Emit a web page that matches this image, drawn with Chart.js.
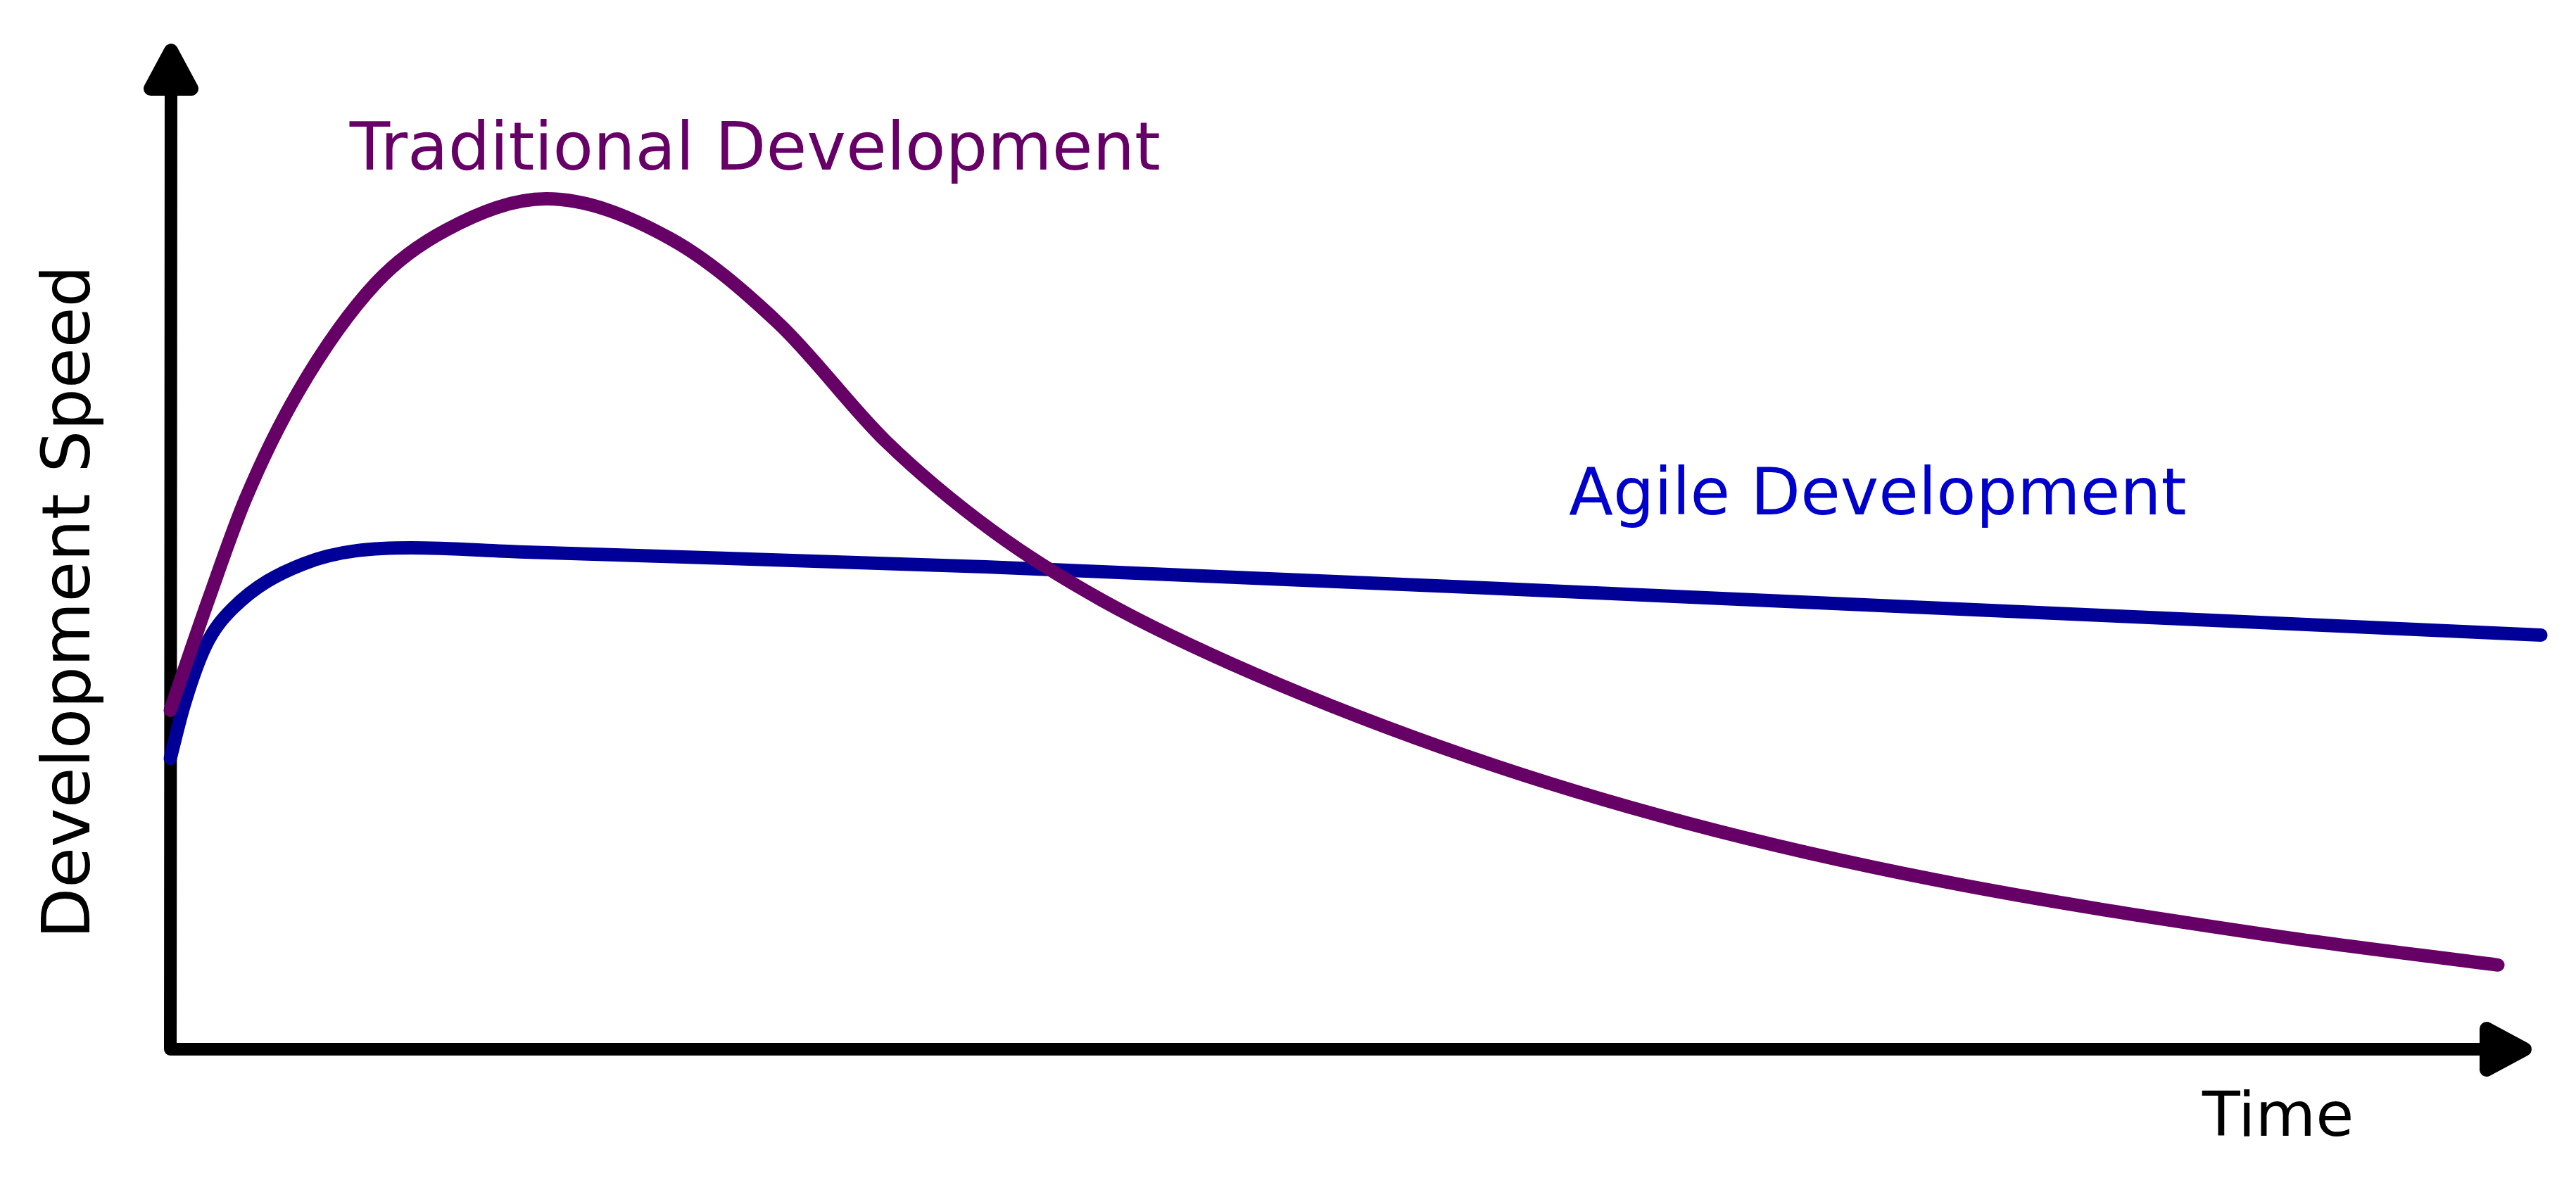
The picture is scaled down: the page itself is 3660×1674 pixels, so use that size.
<!DOCTYPE html>
<html>
<head>
<meta charset="utf-8">
<script src="https://cdn.jsdelivr.net/npm/chart.js@4"></script>
<style>
  html, body { margin: 0; padding: 0; background: #ffffff; }
  #wrap { width: 3660px; height: 1674px; }
</style>
</head>
<body>
<div id="wrap"><canvas id="c" width="3660" height="1674"></canvas></div>
<script>
// ---- data (time on x, development speed on y; both 0..100) ----
const traditionalTime  = [0, 1.64, 3.19, 5.43, 8.71, 11.69, 15.93, 21.21, 25.77, 30.33, 34.89, 39.46, 45.96, 55.09, 64.21, 74.77, 88.91, 98.63];
const traditionalSpeed = [33.8, 45.0, 54.9, 65.6, 76.4, 81.7, 84.8, 80.8, 72.4, 60.6, 51.6, 44.8, 37.4, 29.1, 22.6, 16.9, 11.4, 8.4];

const agileTime  = [0, 0.57, 1.49, 2.62, 5.64, 10.2, 14.8, 34.54, 62.39, 100.45];
const agileSpeed = [29.0, 34.2, 40.2, 43.9, 48.4, 50.0, 49.6, 48.1, 45.3, 41.3];

const seriesNames = ['Traditional Development', 'Agile Development'];
const xAxisTitle = 'Time';
const yAxisTitle = 'Development Speed';

const toPoints = (xs, ys) => xs.map((x, i) => ({ x: x, y: ys[i] }));

// label anchors in data units
const labels = [
  { text: seriesNames[0], x: 7.6,   y: 87.7, color: '#660066', size: 94, rotate: false },
  { text: seriesNames[1], x: 59.26, y: 53.3, color: '#0000cc', size: 92, rotate: false },
  { text: xAxisTitle,     x: 86.1,  y: -8.6, color: '#000000', size: 88, rotate: false },
  { text: yAxisTitle,     x: -3.43, y: 44.6, color: '#000000', size: 94, rotate: true }
];

const FONT = '"DejaVu Sans", "Liberation Sans", sans-serif';

const sketchAxes = {
  id: 'sketchAxes',
  beforeDatasetsDraw(chart) {
    const { ctx, chartArea: a } = chart;
    ctx.save();
    ctx.strokeStyle = '#000';
    ctx.fillStyle = '#000';
    ctx.lineCap = 'round';
    ctx.lineJoin = 'round';
    ctx.lineWidth = 18;
    // axes
    ctx.beginPath();
    ctx.moveTo(a.left + 1, a.top + 12);
    ctx.lineTo(a.left, a.bottom);
    ctx.lineTo(a.right - 12, a.bottom);
    ctx.stroke();
    // y arrow
    ctx.lineWidth = 20;
    ctx.beginPath();
    ctx.moveTo(a.left - 28, a.top + 60);
    ctx.lineTo(a.left + 1, a.top + 6);
    ctx.lineTo(a.left + 30, a.top + 60);
    ctx.closePath();
    ctx.fill();
    ctx.stroke();
    // x arrow
    ctx.beginPath();
    ctx.moveTo(a.right - 62, a.bottom - 29);
    ctx.lineTo(a.right - 8, a.bottom);
    ctx.lineTo(a.right - 62, a.bottom + 29);
    ctx.closePath();
    ctx.fill();
    ctx.stroke();
    ctx.restore();
  },
  afterDatasetsDraw(chart) {
    const { ctx, scales } = chart;
    ctx.save();
    labels.forEach(l => {
      const px = scales.x.getPixelForValue(l.x);
      const py = scales.y.getPixelForValue(l.y);
      ctx.fillStyle = l.color;
      ctx.font = l.size + 'px ' + FONT;
      ctx.textBaseline = 'alphabetic';
      if (l.rotate) {
        ctx.save();
        ctx.translate(px, py);
        ctx.rotate(-Math.PI / 2);
        ctx.textAlign = 'center';
        ctx.fillText(l.text, 0, 0);
        ctx.restore();
      } else {
        ctx.textAlign = 'left';
        ctx.fillText(l.text, px, py);
      }
    });
    ctx.restore();
  }
};

new Chart(document.getElementById('c'), {
  type: 'line',
  data: {
    datasets: [
      {
        label: seriesNames[0],
        data: toPoints(traditionalTime, traditionalSpeed),
        borderColor: '#660066',
        borderWidth: 19,
        borderCapStyle: 'round',
        borderJoinStyle: 'round',
        cubicInterpolationMode: 'monotone',
        pointRadius: 0,
        fill: false,
        clip: false
      },
      {
        label: seriesNames[1],
        data: toPoints(agileTime, agileSpeed),
        borderColor: '#000099',
        borderWidth: 19,
        borderCapStyle: 'round',
        borderJoinStyle: 'round',
        cubicInterpolationMode: 'monotone',
        pointRadius: 0,
        fill: false,
        clip: false
      }
    ]
  },
  options: {
    responsive: false,
    animation: false,
    devicePixelRatio: 1,
    layout: { padding: { left: 242, top: 66, right: 65, bottom: 183 } },
    plugins: { legend: { display: false }, tooltip: { enabled: false }, title: { display: false } },
    scales: {
      x: { type: 'linear', min: 0, max: 100, display: false },
      y: { type: 'linear', min: 0, max: 100, display: false }
    }
  },
  plugins: [sketchAxes]
});
</script>
</body>
</html>
